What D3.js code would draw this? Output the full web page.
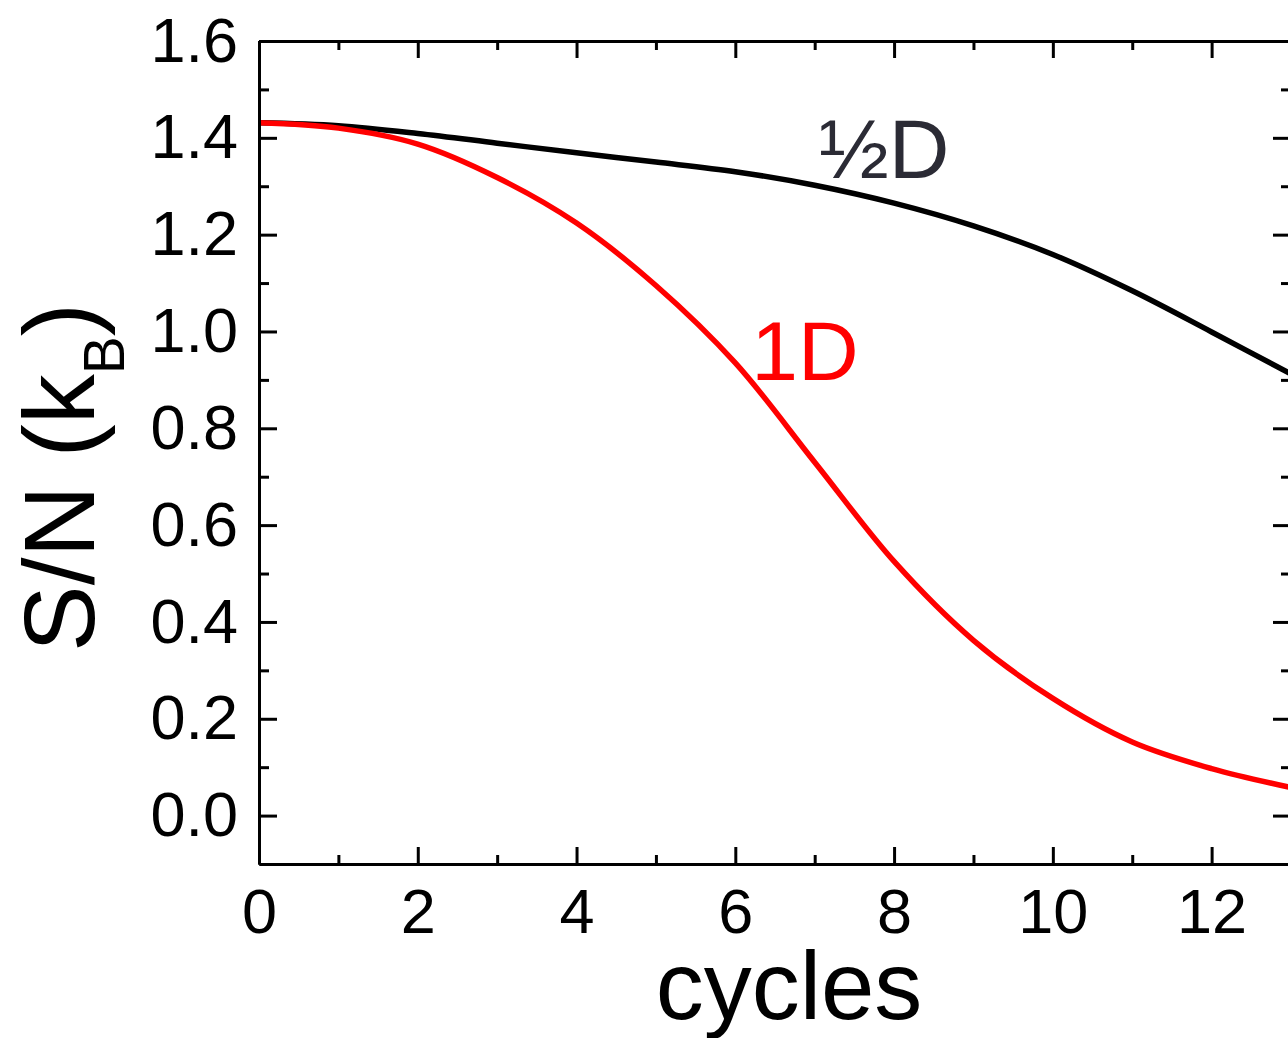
<!DOCTYPE html>
<html>
<head>
<meta charset="utf-8">
<script src="https://cdn.jsdelivr.net/npm/d3@7"></script>
<style>
  html, body { margin: 0; padding: 0; background: #fff; }
  svg { display: block; }
  text { font-family: "Liberation Sans", Arial, Helvetica, sans-serif; }
</style>
</head>
<body>
<svg id="chart" width="1288" height="1038"></svg>
<script>
// Entropy per particle vs. number of cycles
const cycles = [0, 1, 2, 3, 4, 5, 6, 7, 8, 9, 10, 11, 12, 13];
const halfD  = [1.431, 1.425, 1.409, 1.389, 1.369, 1.350, 1.330, 1.302, 1.265, 1.218, 1.159, 1.084, 0.999, 0.912];
const oneD   = [1.431, 1.420, 1.387, 1.318, 1.224, 1.095, 0.935, 0.730, 0.525, 0.362, 0.242, 0.152, 0.097, 0.058];

const seriesNames  = ["½D", "1D"];
const xTickValues  = [0, 2, 4, 6, 8, 10, 12];
const xMinorValues = [1, 3, 5, 7, 9, 11, 13];
const yTickValues  = [0.0, 0.2, 0.4, 0.6, 0.8, 1.0, 1.2, 1.4, 1.6];
const yMinorValues = [0.1, 0.3, 0.5, 0.7, 0.9, 1.1, 1.3, 1.5];
const xTitle = "cycles";

const svg = d3.select("#chart");
const plotLeft = 259, plotRight = 1291, plotTop = 41, plotBottom = 864;

const x = d3.scaleLinear().domain([0, 13]).range([plotLeft, plotRight]);
const y = d3.scaleLinear().domain([-0.1, 1.6]).range([plotBottom, plotTop]);

const fmtY = d3.format(".1f");
const tickFont = 63;

// --- curves (drawn first so the frame sits on top)
const line = d3.line()
  .x(d => x(d[0]))
  .y(d => y(d[1]))
  .curve(d3.curveCatmullRom.alpha(0.5));

svg.append("path")
  .datum(cycles.map((c, i) => [c, halfD[i]]))
  .attr("fill", "none")
  .attr("stroke", "#000")
  .attr("stroke-width", 5.5)
  .attr("d", line);

svg.append("path")
  .datum(cycles.map((c, i) => [c, oneD[i]]))
  .attr("fill", "none")
  .attr("stroke", "#ff0000")
  .attr("stroke-width", 5.5)
  .attr("d", line);

// --- axes: ticks point inward on all four sides
function styleAxis(g) {
  g.selectAll("path.domain").attr("stroke", "#000").attr("stroke-width", 3);
  g.selectAll(".tick line").attr("stroke", "#000").attr("stroke-width", 3);
  g.selectAll(".tick text")
    .attr("fill", "#000")
    .style("font-size", tickFont + "px")
    .style("font-family", "'Liberation Sans', Arial, sans-serif");
}

// bottom
svg.append("g").attr("transform", `translate(0,${plotBottom})`)
  .call(d3.axisBottom(x).tickValues(xTickValues).tickSizeInner(-17).tickSizeOuter(0)
    .tickPadding(24).tickFormat(d3.format("d")))
  .call(styleAxis);
svg.append("g").attr("transform", `translate(0,${plotBottom})`)
  .call(d3.axisBottom(x).tickValues(xMinorValues).tickSizeInner(-9).tickSizeOuter(0).tickFormat(""))
  .call(styleAxis);

// top
svg.append("g").attr("transform", `translate(0,${plotTop})`)
  .call(d3.axisTop(x).tickValues(xTickValues).tickSizeInner(-17).tickSizeOuter(0).tickFormat(""))
  .call(styleAxis);
svg.append("g").attr("transform", `translate(0,${plotTop})`)
  .call(d3.axisTop(x).tickValues(xMinorValues).tickSizeInner(-9).tickSizeOuter(0).tickFormat(""))
  .call(styleAxis);

// left
svg.append("g").attr("transform", `translate(${plotLeft},0)`)
  .call(d3.axisLeft(y).tickValues(yTickValues).tickSizeInner(-18).tickSizeOuter(0)
    .tickPadding(21).tickFormat(fmtY))
  .call(styleAxis);
svg.append("g").attr("transform", `translate(${plotLeft},0)`)
  .call(d3.axisLeft(y).tickValues(yMinorValues).tickSizeInner(-10).tickSizeOuter(0).tickFormat(""))
  .call(styleAxis);

// right
svg.append("g").attr("transform", `translate(${plotRight},0)`)
  .call(d3.axisRight(y).tickValues(yTickValues).tickSizeInner(-18).tickSizeOuter(0).tickFormat(""))
  .call(styleAxis);
svg.append("g").attr("transform", `translate(${plotRight},0)`)
  .call(d3.axisRight(y).tickValues(yMinorValues).tickSizeInner(-10).tickSizeOuter(0).tickFormat(""))
  .call(styleAxis);

// --- axis titles
svg.append("text")
  .attr("x", 789)
  .attr("y", 1019)
  .attr("text-anchor", "middle")
  .attr("fill", "#000")
  .style("font-size", "96px")
  .text(xTitle);

const yTitle = svg.append("text")
  .attr("transform", "translate(94,652) rotate(-90)")
  .attr("text-anchor", "start")
  .attr("fill", "#000")
  .style("font-size", "100px");
yTitle.append("tspan").text("S/N (k");
yTitle.append("tspan").attr("dy", 30).style("font-size", "57px").text("B");
yTitle.append("tspan").attr("dy", -30).text(")");

// --- series labels
svg.append("text")
  .attr("x", x(7.05))
  .attr("y", y(1.318))
  .attr("fill", "#2b2b35")
  .style("font-size", "84px")
  .text(seriesNames[0]);

svg.append("text")
  .attr("x", x(6.2))
  .attr("y", y(0.899))
  .attr("fill", "#ff0000")
  .style("font-size", "84px")
  .text(seriesNames[1]);
</script>
</body>
</html>
